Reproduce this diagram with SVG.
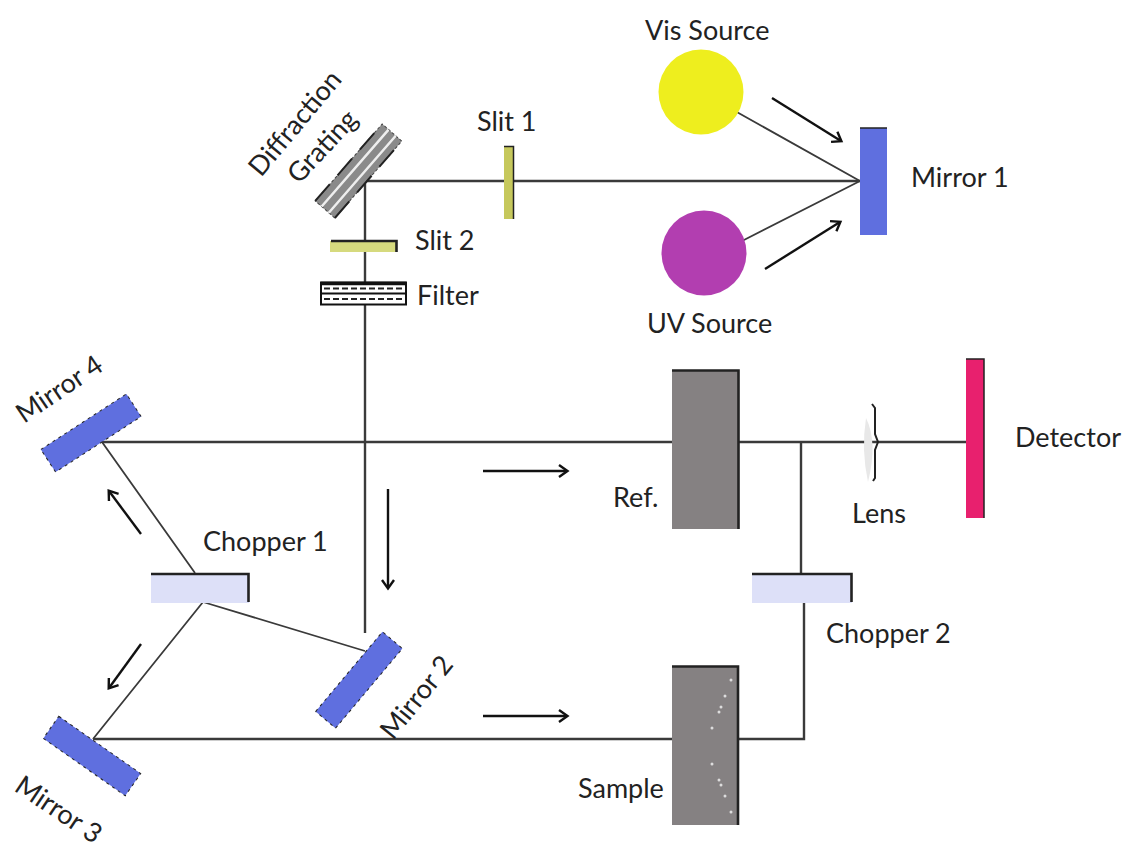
<svg xmlns="http://www.w3.org/2000/svg" width="1123" height="850" viewBox="0 0 1123 850">
<style>
text{font-family:"Lato","Open Sans","Liberation Sans",sans-serif;font-size:27px;fill:#222}
.b{stroke:#3a3a3a;stroke-width:2.4;fill:none}
.t{stroke:#3a3a3a;stroke-width:1.8;fill:none}
.a{stroke:#111;stroke-width:2.4;fill:none}
.e{stroke:#222;stroke-width:2.6;fill:none}
.m{fill:#5f6fdf;stroke:#222;stroke-width:1;stroke-dasharray:3 4}
.g{fill:#858182}
.d{fill:#ddd}
</style>
<defs>
<marker id="h" markerWidth="14" markerHeight="14" refX="11" refY="7" orient="auto" markerUnits="userSpaceOnUse"><path d="M3 1L11.500 7L3 13" fill="none" stroke="#111" stroke-width="2.4"/></marker>
</defs>
<rect width="1123" height="850" fill="#fff"/>
<g id="connectors">
<path class="b" d="M365 181H860M365 181V633"/>
<path class="t" d="M860 181L735 111M860 181L742 241"/>
<path class="b" d="M102 442H966M801 443V574M93 739H804V603"/>
<path class="t" d="M102 442L195 573M203 602L365 651M203 602L93 739"/>
</g>
<g id="arrows">
<path class="a" marker-end="url(#h)" d="M772 98L841 141"/>
<path class="a" marker-end="url(#h)" d="M765 269L840 222"/>
<path class="a" marker-end="url(#h)" d="M388 489V588"/>
<path class="a" marker-end="url(#h)" d="M483 471H567"/>
<path class="a" marker-end="url(#h)" d="M483 716H567"/>
<path class="a" marker-end="url(#h)" d="M141 534L109 491"/>
<path class="a" marker-end="url(#h)" d="M141 644L109 688"/>
</g>
<g id="vis-source"><circle cx="701" cy="92" r="42.500" fill="#eeee1e"/><text x="645" y="40">Vis Source</text></g>
<g id="uv-source"><circle cx="704" cy="253" r="42.500" fill="#b23eb0"/><text x="647" y="333">UV Source</text></g>
<g id="mirror-1"><rect x="860" y="128" width="27" height="107" fill="#5f6fdf"/><path class="e" d="M860 128H887" style="stroke-width:1.500"/><text x="911" y="187">Mirror 1</text></g>
<g id="slit-1"><rect x="504" y="146" width="10" height="73" fill="#c6c85c"/><path class="e" d="M504 146.500H513.500V219" style="stroke-width:1.500"/><text x="477" y="131">Slit 1</text></g>
<g id="grating">
<g transform="translate(358.500 171) rotate(-49)">
<rect x="-51" y="-13" width="102" height="26" fill="#8a8a8a" stroke="#444" stroke-dasharray="3 2"/>
<path d="M-51 -4.500H51M-51 5H51" stroke="#eee" stroke-width="2.500"/>
<path d="M-51 -13H51M-51 13H51" stroke="#222" stroke-dasharray="22 12" stroke-width="2"/>
</g>
<text transform="translate(261 178) rotate(-50)">Diffraction</text>
<text transform="translate(299 185) rotate(-47)">Grating</text>
</g>
<g id="slit-2"><rect x="330" y="241" width="67" height="11" fill="#d6da7e"/><path class="e" d="M331 241H396.500V252"/><text x="415" y="250">Slit 2</text></g>
<g id="filter"><rect x="321" y="282.500" width="85" height="22" fill="#fff" stroke="#111" stroke-width="2"/><path d="M321 283.500H406" stroke="#111" stroke-width="3.500"/><path d="M321 293.500H406" stroke="#111" stroke-width="2"/><path d="M324 288.500H404M324 299H404" stroke="#222" stroke-width="1.800" stroke-dasharray="6 3"/><text x="417" y="305">Filter</text></g>
<g id="mirror-4"><rect x="-51" y="-13.500" width="102" height="27" transform="translate(91 433) rotate(-33)" class="m"/><text transform="translate(24 424) rotate(-34)">Mirror 4</text></g>
<g id="mirror-3"><rect x="-50" y="-13.500" width="100" height="27" transform="translate(92 756) rotate(35)" class="m"/><text transform="translate(13 790) rotate(34)">Mirror 3</text></g>
<g id="mirror-2"><rect x="-52" y="-13" width="104" height="26" transform="translate(359 680) rotate(-50)" class="m"/><text transform="translate(393 741) rotate(-51)">Mirror 2</text></g>
<g id="chopper-1"><rect x="151" y="574" width="98" height="29" fill="#dde0f8"/><path class="e" d="M151 574H248.500V602"/><text x="203" y="551">Chopper 1</text></g>
<g id="chopper-2"><rect x="752" y="574" width="100" height="29" fill="#dde0f8"/><path class="e" d="M752 574H851.500V602"/><text x="826" y="643">Chopper 2</text></g>
<g id="ref"><rect x="672" y="370" width="67" height="159" class="g"/><path class="e" d="M672 370.500H738.500V529"/><text x="613" y="507">Ref.</text></g>
<g id="sample"><rect x="672" y="666" width="67" height="159" class="g"/><path class="e" d="M672 666.500H738V825"/>
<circle class="d" cx="731" cy="680" r="1.500"/><circle class="d" cx="725" cy="696" r="1.500"/><circle class="d" cx="721" cy="707" r="1.500"/><circle class="d" cx="719" cy="712" r="1.500"/><circle class="d" cx="712" cy="728" r="1.500"/><circle class="d" cx="712" cy="764" r="1.500"/><circle class="d" cx="719" cy="780" r="1.500"/><circle class="d" cx="721" cy="785" r="1.500"/><circle class="d" cx="725" cy="796" r="1.500"/><circle class="d" cx="731" cy="812" r="1.500"/>
<text x="578" y="798">Sample</text></g>
<g id="lens"><path d="M866 418Q878 442 868 482Q861 450 866 418Z" fill="#e8e8e8"/><path class="e" d="M872 404L875 408V434L878 442L875 450V478L873 481" style="stroke-width:2"/><text x="852" y="523">Lens</text></g>
<g id="detector"><rect x="966" y="359" width="18" height="159" fill="#e8206e"/><path class="e" d="M966 359H984V518" style="stroke-width:1.500"/><text x="1015" y="447">Detector</text></g>
</svg>
